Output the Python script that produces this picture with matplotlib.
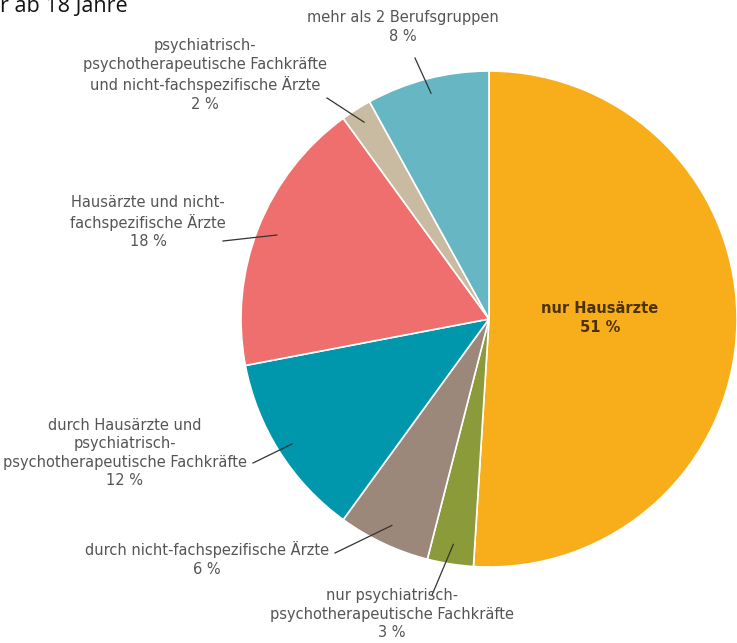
import numpy as np
import matplotlib.pyplot as plt

# Anteile der Versorgung (Prozent), im Uhrzeigersinn ab 12 Uhr
labels = ['nur Hausärzte',
          'nur psychiatrisch-\npsychotherapeutische Fachkräfte',
          'durch nicht-fachspezifische Ärzte',
          'durch Hausärzte und\npsychiatrisch-\npsychotherapeutische Fachkräfte',
          'Hausärzte und nicht-\nfachspezifische Ärzte',
          'psychiatrisch-\npsychotherapeutische Fachkräfte\nund nicht-fachspezifische Ärzte',
          'mehr als 2 Berufsgruppen']
values = [51, 3, 6, 12, 18, 2, 8]
colors = ['#F8AE1A', '#8B9B3A', '#9C877B', '#0097AC', '#EE6F6D', '#C9BBA2', '#66B6C3']

# label anchors (pixel coords from top-left) and leader start points
label_pos = [None, (392, 614), (207, 559), (125, 453), (148, 222), (205, 75), (403, 27)]
leader_out = [None, (432, 595), (335, 553), (253, 463), (223, 241), (327, 98), (415, 58)]
leader_frac = [None, 0.92, 0.92, 0.94, 0.92, 0.94, 0.94]

W, H = 737, 643
cx, cy, R = 489, 319, 248

fig = plt.figure(figsize=(W / 100, H / 100), dpi=100)
ax = fig.add_axes([0, 0, 1, 1])

ax.pie(values, colors=colors, startangle=90, counterclock=False,
       center=(cx, H - cy), radius=R, frame=True,
       wedgeprops=dict(edgecolor='white', linewidth=1.2))
ax.set_xlim(0, W)
ax.set_ylim(0, H)
ax.axis('off')

font = ['Liberation Sans Narrow', 'DejaVu Sans Condensed', 'DejaVu Sans']
gray = '#555555'

cum = np.cumsum(values) - np.array(values) / 2
for i, (lab, v) in enumerate(zip(labels, values)):
    text = f'{lab}\n{v} %'
    if label_pos[i] is None:
        ax.text(600, H - 318, text, ha='center', va='center', fontsize=10.5,
                family=font, color='#4a3208', fontweight='bold', linespacing=1.3)
        continue
    theta = np.deg2rad(cum[i] / 100 * 360)
    r = R * leader_frac[i]
    xin = cx + r * np.sin(theta)
    yin = cy - r * np.cos(theta)
    ox, oy = leader_out[i]
    ax.plot([ox, xin], [H - oy, H - yin], color='#333333', lw=0.9)
    lx, ly = label_pos[i]
    ax.text(lx, H - ly, text, ha='center', va='center', fontsize=10.5,
            family=font, color=gray, linespacing=1.3)

ax.text(0, H - 12, 'r ab 18 Jahre', ha='left', va='baseline', fontsize=15.5,
        family=['Open Sans', 'DejaVu Sans'], color='#111111')

fig.savefig('out.png', dpi=100, facecolor='white')
